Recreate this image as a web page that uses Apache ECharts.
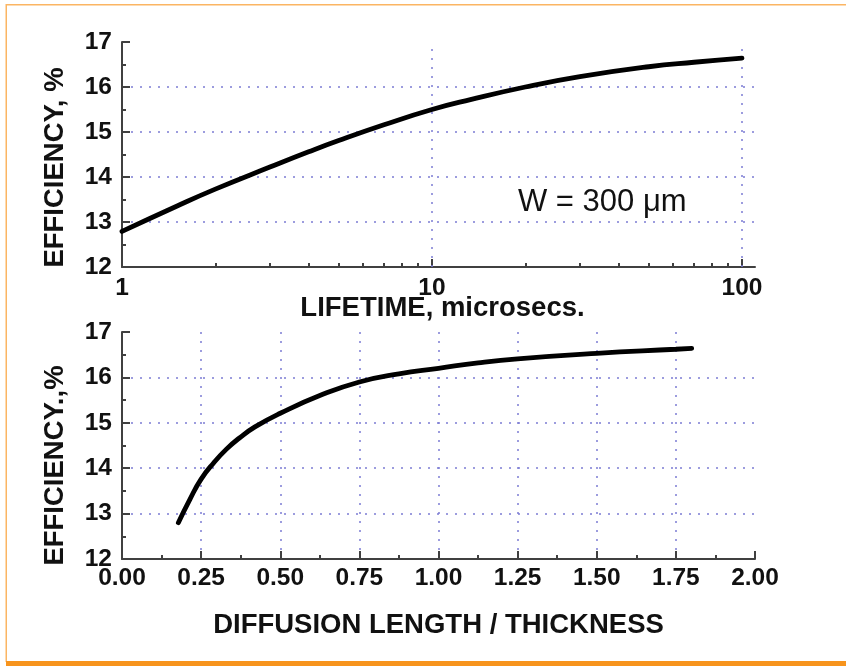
<!DOCTYPE html>
<html><head><meta charset="utf-8">
<script src="https://cdn.jsdelivr.net/npm/echarts@6/dist/echarts.min.js"></script>
<style>html,body{margin:0;padding:0;background:#fff}#c{width:846px;height:666px}</style>
</head><body><div id="c"></div>
<script>
// ---- data ----
const lifetimeX   = [1, 1.5, 2, 3, 4, 5, 7, 10, 13.3, 20, 30, 50, 70, 100];
const lifetimeEff = [12.79, 13.35, 13.73, 14.22, 14.56, 14.81, 15.16, 15.5, 15.72, 16.0, 16.23, 16.45, 16.55, 16.64];
const ratioX      = [0.178, 0.215, 0.25, 0.29, 0.33, 0.37, 0.42, 0.5, 0.625, 0.75, 0.875, 1.0, 1.125, 1.25, 1.5, 1.75, 1.8];
const ratioEff    = [12.8, 13.32, 13.76, 14.12, 14.42, 14.66, 14.91, 15.21, 15.6, 15.9, 16.08, 16.2, 16.32, 16.41, 16.53, 16.62, 16.64];
const lifetimeMajorTicks = [1, 10, 100];
const lifetimeMinorTicks = [2, 3, 4, 5, 6, 7, 8, 9, 20, 30, 40, 50, 60, 70, 80, 90];
const lifetimeGridLines  = [10, 100];
const effMin = 12, effMax = 17, effStep = 1;
const ratioMin = 0, ratioMax = 2, ratioStep = 0.25;
const topXTitle = 'LIFETIME, microsecs.';
const botXTitle = 'DIFFUSION LENGTH / THICKNESS';
const topYTitle = 'EFFICIENCY, %';
const botYTitle = 'EFFICIENCY.,%';
const annotation = 'W = 300 \u03bcm';

// ---- styling ----
const FONT = '"Liberation Sans", Arial, Helvetica, sans-serif';
const AXIS_COLOR = '#404040';
const GRID_COLOR = '#7c7cd4';
const dotted = { color: GRID_COLOR, width: 1.5, type: [2, 7] };
const tickLabel = { color: '#111', fontFamily: FONT, fontWeight: 'bold', fontSize: 24.5 };
const titleStyle = { color: '#111', fontFamily: FONT, fontWeight: 'bold', fontSize: 27.5 };

const chart = echarts.init(document.getElementById('c'), null, { renderer: 'canvas' });

function yAxisFor(gridIndex, title, pad) {
  return {
    type: 'value', gridIndex, min: effMin, max: effMax, interval: effStep,
    axisLine: { show: true, lineStyle: { color: AXIS_COLOR, width: 2 } },
    axisTick: { show: true, inside: true, length: 8, lineStyle: { color: AXIS_COLOR, width: 2 } },
    minorTick: { show: true, splitNumber: 2, length: 4, lineStyle: { color: AXIS_COLOR, width: 2 } },
    axisLabel: Object.assign({ margin: 10 }, tickLabel),
    splitLine: { show: true, showMinLine: false, showMaxLine: false, lineStyle: dotted },
    name: title, nameLocation: 'middle', nameRotate: 90, nameGap: 53, nameMoveOverlap: false,
    nameTextStyle: Object.assign({ padding: pad }, titleStyle)
  };
}

const option = {
  animation: false,
  backgroundColor: '#fff',
  grid: [
    { left: 122, top: 42, width: 633, height: 225 },
    { left: 122, top: 332, width: 633, height: 227 }
  ],
  xAxis: [
    {
      type: 'log', logBase: 10, gridIndex: 0, min: 1, max: 110.15,
      position: 'bottom',
      axisLine: { show: true, lineStyle: { color: AXIS_COLOR, width: 2 } },
      axisTick: { show: true, inside: true, length: 8, customValues: lifetimeMajorTicks, lineStyle: { color: AXIS_COLOR, width: 2 } },
      minorTick: { show: false },
      axisLabel: Object.assign({ margin: 9, customValues: lifetimeMajorTicks }, tickLabel),
      splitLine: { show: false },
      name: topXTitle, nameLocation: 'middle', nameGap: 27, nameMoveOverlap: false,
      nameTextStyle: Object.assign({ padding: [0, 0, 0, 8] }, titleStyle)
    },
    {
      type: 'log', logBase: 10, gridIndex: 0, min: 1, max: 110.15,
      position: 'bottom', offset: 0,
      axisLine: { show: false },
      axisTick: { show: true, inside: true, length: 4, customValues: lifetimeMinorTicks, lineStyle: { color: AXIS_COLOR, width: 2 } },
      axisLabel: { show: false },
      splitLine: { show: false }
    },
    {
      type: 'value', gridIndex: 1, min: ratioMin, max: ratioMax, interval: ratioStep,
      axisLine: { show: true, lineStyle: { color: AXIS_COLOR, width: 2 } },
      axisTick: { show: true, inside: true, length: 8, lineStyle: { color: AXIS_COLOR, width: 2 } },
      minorTick: { show: true, splitNumber: 2, length: 4, lineStyle: { color: AXIS_COLOR, width: 2 } },
      axisLabel: Object.assign({ margin: 7, formatter: v => v.toFixed(2) }, tickLabel),
      splitLine: { show: true, showMinLine: false, showMaxLine: false, lineStyle: dotted },
      name: botXTitle, nameLocation: 'middle', nameGap: 52, nameMoveOverlap: false,
      nameTextStyle: titleStyle
    }
  ],
  yAxis: [
    yAxisFor(0, topYTitle, [0, 26, 0, 0]),
    yAxisFor(1, botYTitle, [0, 40, 0, 0])
  ],
  series: [
    {
      type: 'line', xAxisIndex: 0, yAxisIndex: 0,
      data: lifetimeX.map((x, i) => [x, lifetimeEff[i]]),
      smooth: 0.5, showSymbol: false, symbol: 'none',
      lineStyle: { color: '#000', width: 4.8, cap: 'round' },
      markLine: {
        silent: true, symbol: 'none', label: { show: false },
        lineStyle: dotted,
        data: lifetimeGridLines.map(v => ({ xAxis: v }))
      },
      z: 5
    },
    {
      type: 'line', xAxisIndex: 2, yAxisIndex: 1,
      data: ratioX.map((x, i) => [x, ratioEff[i]]),
      smooth: 0.5, showSymbol: false, symbol: 'none',
      lineStyle: { color: '#000', width: 4.8, cap: 'round' },
      z: 5
    }
  ],
  graphic: [
    { type: 'text', left: 518, top: 187, style: { text: annotation, fill: '#111', font: '31px ' + FONT } },
    { type: 'rect', shape: { x: 6, y: 4, width: 840, height: 1.5 }, style: { fill: '#fbb563' } },
    { type: 'rect', shape: { x: 5.5, y: 4, width: 1.5, height: 658 }, style: { fill: '#fbb563' } },
    { type: 'rect', shape: { x: 6, y: 661, width: 840, height: 5 }, style: { fill: '#f7941d' } }
  ]
};
chart.setOption(option);
</script>
</body></html>
